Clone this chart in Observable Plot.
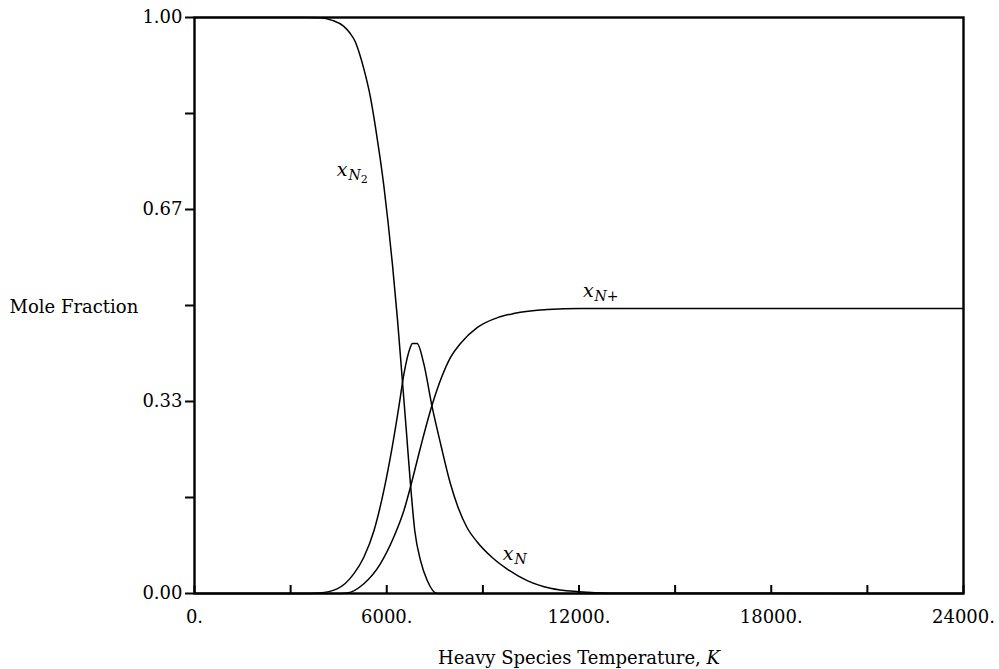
<!DOCTYPE html>
<html><head><meta charset="utf-8">
<script src="https://cdn.jsdelivr.net/npm/d3@7"></script>
<script src="https://cdn.jsdelivr.net/npm/@observablehq/plot@0.6"></script>
<style>body{margin:0;background:#fff;}</style>
</head><body><div id="chart"></div>
<script>
// Heavy species temperature (K) and mole fractions
const tN2 = [0, 3500, 3900, 4300, 4650, 4850, 5025, 5150, 5275, 5493, 5650, 5790, 5915, 6040, 6180, 6336, 6480, 6615, 6740, 6875, 7055, 7260, 7575, 24000];
const xN2 = [1, 1, 0.9995, 0.995, 0.985, 0.973, 0.957, 0.937, 0.913, 0.861, 0.809, 0.757, 0.705, 0.645, 0.570, 0.475, 0.375, 0.280, 0.190, 0.109, 0.057, 0.023, 0.0, 0];

const tN = [0, 3300, 3900, 4450, 4970, 5285, 5600, 5910, 6170, 6375, 6535, 6740, 6795, 6950, 7155, 7420, 7680, 7990, 8210, 8500, 8830, 9300, 9770, 10400, 11110, 12000, 13000, 24000];
const xN = [0, 0, 0.001, 0.008, 0.034, 0.063, 0.109, 0.179, 0.254, 0.323, 0.381, 0.428, 0.434, 0.434, 0.399, 0.323, 0.260, 0.190, 0.152, 0.115, 0.089, 0.062, 0.042, 0.022, 0.009, 0.003, 0.0005, 0];

const tNp = [0, 4400, 4765, 5285, 5805, 6220, 6535, 6740, 7055, 7420, 7730, 7990, 8300, 8830, 9460, 9960, 11020, 12050, 24000];
const xNp = [0, 0, 0.001, 0.017, 0.052, 0.098, 0.144, 0.185, 0.254, 0.328, 0.378, 0.410, 0.434, 0.462, 0.479, 0.486, 0.493, 0.495, 0.495];

const xTicks = [0, 3000, 6000, 9000, 12000, 15000, 18000, 21000, 24000];
const xTickLabels = ["0.", "", "6000.", "", "12000.", "", "18000.", "", "24000."];
const yTicks = [0, 1/6, 1/3, 1/2, 2/3, 5/6, 1];
const yTickLabels = ["0.00", "", "0.33", "", "0.67", "", "1.00"];

const labelNames = ["N2", "N+", "N"];
const labelT = [4620, 12300, 9800];
const labelY = [0.735, 0.525, 0.068];

const xTitle = "Heavy Species Temperature, ";
const xTitleItalic = "K";
const yTitle = "Mole Fraction";

const series = [
  tN2.map((t, i) => ({t, v: xN2[i], s: "N2"})),
  tN.map((t, i) => ({t, v: xN[i], s: "N"})),
  tNp.map((t, i) => ({t, v: xNp[i], s: "N+"}))
];
const labels = labelNames.map((n, i) => ({n, t: labelT[i], v: labelY[i]}));

const font = "'DejaVu Serif', 'Liberation Serif', serif";
const frameH = 669 - 17 - 76;

const chart = Plot.plot({
  width: 999, height: 669,
  marginLeft: 194, marginRight: 36, marginTop: 17, marginBottom: 76,
  style: {fontFamily: font, fontSize: "18px", background: "white", color: "black"},
  x: {domain: [0, 24000]},
  y: {domain: [0, 1]},
  marks: [
    ...series.map(d => Plot.line(d, {x: "t", y: "v", curve: "monotone-x", stroke: "black", strokeWidth: 1.5})),
    Plot.frame({stroke: "black", strokeWidth: 2.4}),
    Plot.axisY({ticks: yTicks, tickSize: 9, tickPadding: 3, strokeWidth: 2, tickFormat: d => yTickLabels[yTicks.indexOf(d)], label: null, fontSize: 18}),
    Plot.axisX({ticks: xTicks, tickSize: 0, tickPadding: 17, tickFormat: d => xTickLabels[xTicks.indexOf(d)], label: null, fontSize: 18}),
    Plot.tickX(xTicks, {x: d => d, insetTop: frameH - 8, stroke: "black", strokeWidth: 2}),
    Plot.text([yTitle], {frameAnchor: "left", dx: -185, dy: 2, textAnchor: "start", fontSize: 18}),
    Plot.text([xTitle], {frameAnchor: "bottom", dy: 70, fontSize: 18, className: "xtitle"}),
    Plot.text(labels, {x: "t", y: "v", text: () => "x", fontStyle: "italic", fontSize: 19, textAnchor: "end", dx: 5}),
    Plot.text(labels, {x: "t", y: "v", text: "n", fontStyle: "italic", fontSize: 14, textAnchor: "start", dx: 6, dy: 5, className: "subs"})
  ]
});
document.getElementById("chart").appendChild(chart);

// Italic K in the x title and nested subscript in N2
d3.select(chart).selectAll(".xtitle text").each(function() {
  d3.select(this).append("tspan").attr("font-style", "italic").text(xTitleItalic);
});
d3.select(chart).selectAll(".subs text").each(function() {
  const s = this.textContent;
  if (s.length > 1 && /\d/.test(s[1])) {
    d3.select(this).text(s[0]);
    d3.select(this).append("tspan").attr("font-size", 11).attr("font-style", "normal").attr("dy", 3).text(s.slice(1));
  } else if (s.length > 1) {
    d3.select(this).text(s[0]);
    d3.select(this).append("tspan").attr("font-style", "normal").text(s.slice(1));
  }
});
</script>
</body></html>
